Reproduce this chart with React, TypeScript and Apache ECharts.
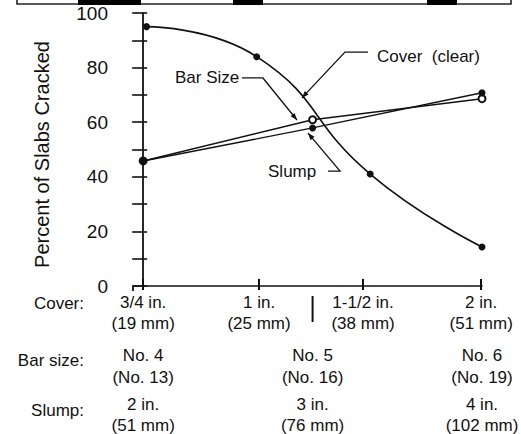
import React, { useEffect, useRef } from "react";
import * as echarts from "echarts";

// Category positions along the shared horizontal scale (No. 4 = 0, No. 5 = 1, No. 6 = 2)
const coverLabels = ["3/4 in.\n(19 mm)", "1 in.\n(25 mm)", "1-1/2 in.\n(38 mm)", "2 in.\n(51 mm)"];
const coverTickPositions = [0, 0.684, 1.298, 1.995];
const coverPointPositions = [0.02, 0.67, 1.34, 2];
const coverValues = [95, 84, 41, 14.3];

const levelPositions = [0, 1, 2];
const barSizeLabels = ["No. 4\n(No. 13)", "No. 5\n(No. 16)", "No. 6\n(No. 19)"];
const slumpLabels = ["2 in.\n(51 mm)", "3 in.\n(76 mm)", "4 in.\n(102 mm)"];
const barSizeValues = [45.8, 60.9, 68.6];
const slumpValues = [45.8, 57.9, 70.8];

const rowTitles = ["Cover:", "Bar size:", "Slump:"];
const yTitle = "Percent of Slabs Cracked";

// Annotations in data coordinates: text anchor + leader polyline (last point = arrow tip)
const annotations = [
  { text: "Cover  (clear)", at: [1.38, 84.2], leader: [[1.327, 85.7], [1.191, 85.7], [0.937, 68.9]] },
  { text: "Bar Size", at: [0.188, 76.2], leader: [[0.583, 76.2], [0.707, 76.2], [0.908, 60.8]] },
  { text: "Slump", at: [0.737, 41.8], leader: [[1.091, 42.1], [1.162, 42.1], [0.973, 56.0]] },
];

const FONT = "'Liberation Sans', Arial, Helvetica, sans-serif";
const INK = "#111";

function labelFor(positions: number[], labels: string[]) {
  return (v: number) => {
    const i = positions.findIndex((p) => Math.abs(p - v) < 1e-6);
    return i >= 0 ? labels[i] : "";
  };
}

export default function App() {
  const ref = useRef<HTMLDivElement>(null);
  useEffect(() => {
    if (!ref.current) return;
    const chart = echarts.init(ref.current, null, { renderer: "svg" });
    const xMin = -0.06;
    const xMax = 2;
    const baseX = {
      type: "value",
      min: xMin,
      max: xMax,
      position: "bottom",
      splitLine: { show: false },
    };
    const option: any = {
      animation: false,
      backgroundColor: "#fff",
      grid: { left: 133, right: 39, top: 13, bottom: 148, outerBoundsMode: "none", containLabel: false },
      xAxis: [
        {
          ...baseX,
          axisLine: { show: true, lineStyle: { color: INK, width: 1.6 } },
          axisTick: {
            show: true,
            customValues: coverTickPositions,
            length: 4,
            lineStyle: { color: INK, width: 2 },
          },
          axisLabel: {
            show: true,
            customValues: coverTickPositions,
            formatter: labelFor(coverTickPositions, coverLabels),
            margin: 6,
            fontSize: 17,
            lineHeight: 21,
            color: INK,
            fontFamily: FONT,
          },
        },
        {
          ...baseX,
          axisLine: { show: false },
          axisTick: {
            show: true,
            inside: true,
            customValues: coverTickPositions,
            length: 7,
            lineStyle: { color: INK, width: 2 },
          },
          axisLabel: { show: false },
        },
        {
          ...baseX,
          offset: 58,
          axisLine: { show: false },
          axisTick: { show: false },
          axisLabel: {
            show: true,
            customValues: levelPositions,
            formatter: labelFor(levelPositions, barSizeLabels),
            margin: 0,
            fontSize: 17,
            lineHeight: 22,
            color: INK,
            fontFamily: FONT,
          },
        },
        {
          ...baseX,
          offset: 108,
          axisLine: { show: false },
          axisTick: { show: false },
          axisLabel: {
            show: true,
            customValues: levelPositions,
            formatter: labelFor(levelPositions, slumpLabels),
            margin: 0,
            fontSize: 17,
            lineHeight: 21,
            color: INK,
            fontFamily: FONT,
          },
        },
      ],
      yAxis: [
        {
          type: "value",
          min: 0,
          max: 100,
          interval: 10,
          axisLine: { show: true, lineStyle: { color: INK, width: 1.8 } },
          axisTick: { show: true, length: 11, lineStyle: { color: INK, width: 1.6 } },
          axisLabel: {
            formatter: (v: number) => (v % 20 === 0 ? String(v) : ""),
            margin: 25,
            fontSize: 19,
            color: INK,
            fontFamily: FONT,
          },
          splitLine: { show: false },
        },
        {
          type: "value",
          min: 0,
          max: 100,
          interval: 10,
          position: "left",
          axisLine: { show: false },
          axisTick: { show: true, inside: true, length: 4, lineStyle: { color: INK, width: 1.6 } },
          axisLabel: { show: false },
          splitLine: { show: false },
        },
      ],
      series: [
        {
          name: "Cover (clear)",
          type: "line",
          smooth: 0.5,
          data: coverPointPositions.map((x, i) => [x, coverValues[i]]),
          symbol: "circle",
          symbolSize: 7,
          lineStyle: { color: INK, width: 1.6 },
          itemStyle: { color: INK },
        },
        {
          name: "Bar Size",
          type: "line",
          data: levelPositions.map((x, i) => [x, barSizeValues[i]]),
          symbol: "emptyCircle",
          symbolSize: 7,
          lineStyle: { color: INK, width: 1.4 },
          itemStyle: { color: INK, borderColor: INK, borderWidth: 1.4 },
          z: 2,
        },
        {
          name: "Slump",
          type: "line",
          data: levelPositions.map((x, i) => [x, slumpValues[i]]),
          symbol: "circle",
          symbolSize: 7,
          lineStyle: { color: INK, width: 1.4 },
          itemStyle: { color: INK },
          z: 3,
        },
      ],
    };
    chart.setOption(option);

    const px = (p: number[]) =>
      chart.convertToPixel({ xAxisIndex: 0, yAxisIndex: 0 }, p) as number[];

    const graphics: any[] = [];
    // Remnant of a table border at the top edge
    graphics.push({
      type: "rect",
      shape: { x: 17, y: -4, width: 494, height: 8 },
      style: { fill: "#fff", stroke: "#222", lineWidth: 1.6 },
    });
    [[78, 63], [233, 30], [427, 30]].forEach(([x, w]) =>
      graphics.push({ type: "rect", shape: { x, y: -2, width: w, height: 7 }, style: { fill: "#000" } })
    );

    const origin = px([xMin, 0]);
    // y-axis extending a little below the x-axis
    graphics.push({
      type: "line",
      shape: { x1: origin[0], y1: origin[1], x2: origin[0], y2: origin[1] + 5 },
      style: { stroke: INK, lineWidth: 1.8 },
    });
    // separator at the No. 5 position
    const mid = px([levelPositions[1], 0]);
    graphics.push({
      type: "line",
      shape: { x1: mid[0], y1: mid[1] + 10, x2: mid[0], y2: mid[1] + 36 },
      style: { stroke: INK, lineWidth: 2 },
    });

    // Y title
    const top = px([xMin, 100]);
    graphics.push({
      type: "text",
      x: 42,
      y: (top[1] + origin[1]) / 2 + 5,
      rotation: Math.PI / 2,
      style: { text: yTitle, fontSize: 20, fontFamily: FONT, fill: INK, textAlign: "center", textVerticalAlign: "middle" },
    });

    // Row titles
    const rowY = [origin[1] + 17, origin[1] + 74, origin[1] + 124];
    rowTitles.forEach((t, i) =>
      graphics.push({
        type: "text",
        x: 84,
        y: rowY[i],
        style: { text: t, fontSize: 17, fontFamily: FONT, fill: INK, textAlign: "right", textVerticalAlign: "middle" },
      })
    );

    // Annotations
    annotations.forEach((a) => {
      const p = px(a.at);
      graphics.push({
        type: "text",
        x: p[0],
        y: p[1],
        style: { text: a.text, fontSize: 17, fontFamily: FONT, fill: INK, textAlign: "left", textVerticalAlign: "middle" },
      });
      const pts = a.leader.map((q) => px(q));
      graphics.push({
        type: "polyline",
        shape: { points: pts },
        style: { stroke: INK, lineWidth: 1.3, fill: "none" },
      });
      const tip = pts[pts.length - 1];
      const prev = pts[pts.length - 2];
      const dx = tip[0] - prev[0];
      const dy = tip[1] - prev[1];
      const len = Math.hypot(dx, dy) || 1;
      const ux = dx / len;
      const uy = dy / len;
      const L = 7;
      const W = 2.6;
      graphics.push({
        type: "polygon",
        shape: {
          points: [
            tip,
            [tip[0] - ux * L - uy * W, tip[1] - uy * L + ux * W],
            [tip[0] - ux * L + uy * W, tip[1] - uy * L - ux * W],
          ],
        },
        style: { fill: INK },
      });
    });

    chart.setOption({ graphic: graphics });
    return () => chart.dispose();
  }, []);
  return (
    <div
      ref={ref}
      style={{ position: "fixed", left: 0, top: 0, width: 521, height: 434, background: "#fff" }}
    />
  );
}
